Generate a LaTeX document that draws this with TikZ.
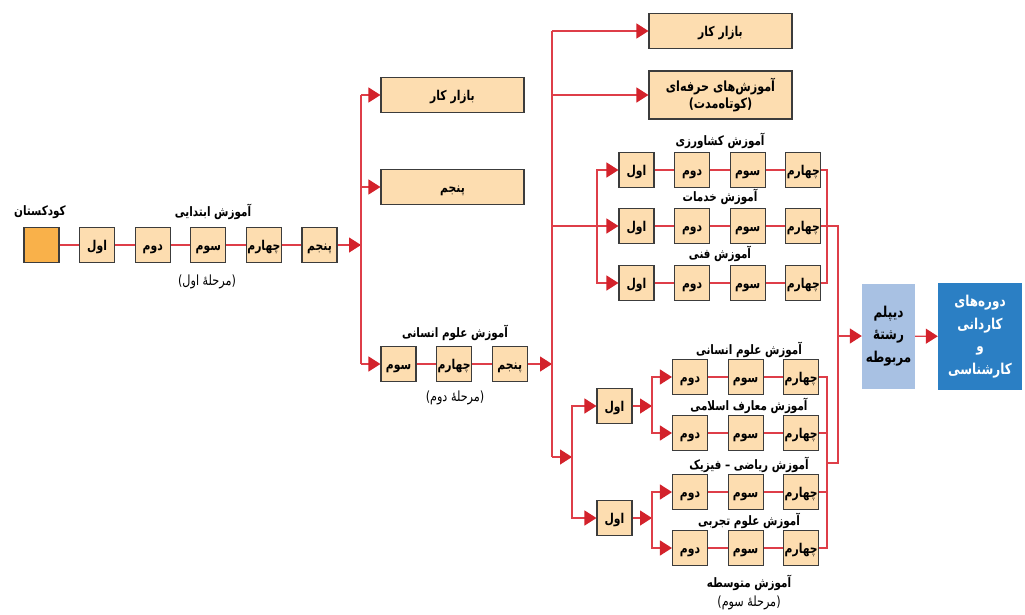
\documentclass[tikz,border=0pt]{standalone}
\usepackage{fontspec}
\usetikzlibrary{positioning,arrows.meta}
\TeXXeTstate=1
\newfontfamily\farsifont[Script=Arabic, FakeStretch=0.8]{DejaVu Sans}
\newcommand{\fatxt}[1]{{\farsifont\beginR #1\endR}}
\definecolor{linkred}{HTML}{DE3E48}
\definecolor{tipred}{HTML}{D3222B}
\definecolor{boxfill}{HTML}{FDDDB0}
\definecolor{kidfill}{HTML}{F9B14A}
\definecolor{diplfill}{HTML}{A8C1E3}
\definecolor{unifill}{HTML}{2B7FC4}
\definecolor{boxline}{HTML}{3C3C3C}

\tikzset{
  grade/.style = {draw=boxline, line width=1.1pt, fill=boxfill, minimum width=35pt,
    minimum height=35pt, inner sep=0pt, text height=11pt, text depth=1pt,
    font=\bfseries\fontsize{13.5}{15}\selectfont},
  widebox/.style = {grade, minimum width=143pt},
  title/.style = {inner sep=0pt, font=\bfseries\fontsize{13}{15}\selectfont},
  stage/.style = {inner sep=0pt, font=\fontsize{14}{16}\selectfont},
  link/.style = {draw=linkred, line width=1.3pt},
  arr/.style = {link, -{Triangle[length=12pt,width=15pt,color=tipred]}},
}

\begin{document}
\begin{tikzpicture}[x=1pt, y=-1pt, node distance=19.5pt]
\useasboundingbox (0,0) rectangle (1025,614);

% first stage
\node[grade, fill=kidfill] (kid) at (41.5,245) {};
\node[grade, right=of kid] (p1) {\fatxt{اول}};
\node[grade, right=of p1] (p2) {\fatxt{دوم}};
\node[grade, right=of p2] (p3) {\fatxt{سوم}};
\node[grade, right=of p3] (p4) {\fatxt{چهارم}};
\node[grade, right=of p4] (p5) {\fatxt{پنجم}};
\node[title] (kidlab) at (40,212) {\fatxt{کودکستان}};
\node[title] (p0lab) at (213,212) {\fatxt{آموزش ابتدایی}};
\node[stage] (p0stage) at (207,282) {\fatxt{(مرحلهٔ اول)}};
\draw[link] (kid) -- (p1) -- (p2) -- (p3) -- (p4) -- (p5);
\coordinate (j1) at (361,245);
\draw[arr] (p5) -- (j1);

% second stage
\node[widebox] (job1) at (452.5,95) {\fatxt{بازار کار}};
\node[widebox] (fifth) at (452.5,187) {\fatxt{پنجم}};
\node[grade] (q3) at (398.5,364) {\fatxt{سوم}};
\node[grade, right=of q3] (q4) {\fatxt{چهارم}};
\node[grade, right=of q4] (q5) {\fatxt{پنجم}};
\node[title] (q0lab) at (455,333) {\fatxt{آموزش علوم انسانی}};
\node[stage] (q0stage) at (455,398) {\fatxt{(مرحلهٔ دوم)}};
\draw[link] (j1 |- job1) -- (j1 |- q3);
\draw[arr] (j1 |- job1) -- (job1);
\draw[arr] (j1 |- fifth) -- (fifth);
\draw[arr] (j1 |- q3) -- (q3);
\draw[link] (q3) -- (q4) -- (q5);
\coordinate (j2) at (552,364);
\draw[arr] (q5) -- (j2);

% third stage
\node[widebox] (job2) at (720.5,31) {\fatxt{بازار کار}};
\node[widebox, minimum height=48pt, align=center, text height=, text depth=,
  font=\bfseries\fontsize{14}{17}\selectfont] (short) at (720.5,95)
  {\fatxt{آموزش‌های حرفه‌ای}\\\fatxt{(کوتاه‌مدت)}};
\coordinate (j2top) at (552,31);
\coordinate (j2bot) at (552,457);
\draw[link] (j2top) -- (j2bot);
\draw[arr] (j2top) -- (job2);
\draw[arr] (j2 |- short) -- (short);

\foreach \row/\y/\lab in {1/170/آموزش کشاورزی, 2/226/آموزش خدمات, 3/283/آموزش فنی} {
  \node[grade] (u\row1) at (636.5,\y) {\fatxt{اول}};
  \node[grade, right=of u\row1] (u\row2) {\fatxt{دوم}};
  \node[grade, right=of u\row2] (u\row3) {\fatxt{سوم}};
  \node[grade, right=of u\row3] (u\row4) {\fatxt{چهارم}};
  \node[title] (u\row lab) at (720,\y-29) {\fatxt{\lab}};
  \draw[link] (u\row1) -- (u\row2) -- (u\row3) -- (u\row4);
}
\coordinate (s1) at (597,226);
\draw[arr] (j2 |- u21) -- (u21);
\draw[arr] (s1) |- (u11);
\draw[arr] (s1) |- (u31);

\node[grade] (h1) at (614.5,406) {\fatxt{اول}};
\node[grade] (h2) at (614.5,518) {\fatxt{اول}};
\coordinate (s2) at (572,457);
\draw[arr] (j2bot) -- (s2);
\draw[arr] (s2) |- (h1);
\draw[arr] (s2) |- (h2);

\foreach \row/\y/\lab in {1/377/آموزش علوم انسانی, 2/433/آموزش معارف اسلامی,
    3/492/آموزش ریاضی – فیزیک, 4/548/آموزش علوم تجربی} {
  \node[grade] (m\row1) at (690,\y) {\fatxt{دوم}};
  \node[grade, right=of m\row1] (m\row2) {\fatxt{سوم}};
  \node[grade, right=of m\row2] (m\row3) {\fatxt{چهارم}};
  \node[title] (m\row lab) at (749,\y-27) {\fatxt{\lab}};
  \draw[link] (m\row1) -- (m\row2) -- (m\row3);
}
\node[title] (m0lab) at (749,583) {\fatxt{آموزش متوسطه}};
\node[stage] (m0stage) at (749,603) {\fatxt{(مرحلهٔ سوم)}};
\coordinate (s3) at (652,406);
\coordinate (s4) at (652,518);
\draw[arr] (h1) -- (s3);
\draw[arr] (h2) -- (s4);
\draw[arr] (s3) |- (m11);
\draw[arr] (s3) |- (m21);
\draw[arr] (s4) |- (m31);
\draw[arr] (s4) |- (m41);

% joining the fourth grades
\draw[link] (u14.east) -| (827,283) -- (u34.east);
\draw[link] (u24.east) -| (838,463) -- (827,463);
\draw[link] (m13.east) -| (827,548) -- (m43.east);
\draw[link] (m23.east) -- (827,433);
\draw[link] (m33.east) -- (827,492);

% diploma and university
\node[fill=diplfill, minimum width=53pt, minimum height=105pt, inner sep=0pt,
  align=center, font=\bfseries\fontsize{15}{22.5}\selectfont] (dipl) at (888.5,336)
  {\fatxt{دیپلم}\\\fatxt{رشتهٔ}\\\fatxt{مربوطه}};
\node[fill=unifill, text=white, minimum width=84pt, minimum height=107pt, inner sep=0pt,
  align=center, font=\bfseries\fontsize{15}{22.7}\selectfont] (uni) at (980,336.5)
  {\fatxt{دوره‌های}\\\fatxt{کاردانی}\\\fatxt{و}\\\fatxt{کارشناسی}};
\draw[arr] (838,336) -- (dipl);
\draw[arr] (dipl) -- (uni);
\end{tikzpicture}
\end{document}
